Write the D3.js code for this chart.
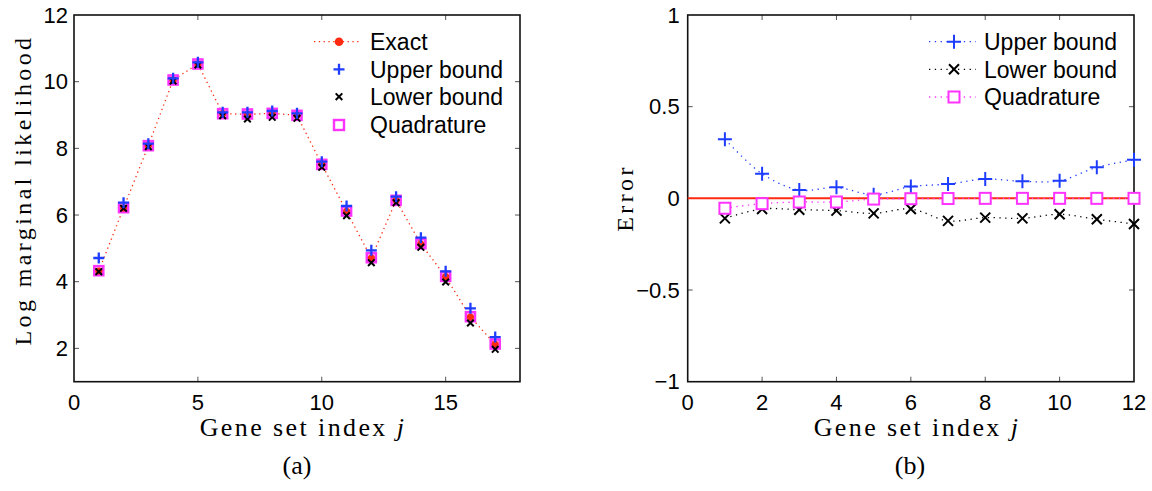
<!DOCTYPE html>
<html><head><meta charset="utf-8">
<script src="https://cdn.jsdelivr.net/npm/d3@7"></script>
<style>body{margin:0;background:#fff}svg{display:block}</style>
</head><body>
<svg id="c" width="1152" height="491"></svg>
<script>
// ---- data (a) ----
const geneA = [1,2,3,4,5,6,7,8,9,10,11,12,13,14,15,16,17];
const exactA = [4.32,6.21,8.08,10.05,10.53,9.04,9.02,9.05,8.99,7.52,6.11,4.71,6.44,5.13,4.15,2.94,2.12];
const upperA = [4.71,6.37,8.14,10.10,10.58,9.08,9.08,9.12,9.05,7.60,6.27,4.94,6.55,5.32,4.31,3.20,2.34];
const lowerA = [4.30,6.20,8.05,10.02,10.50,8.98,8.88,8.93,8.90,7.43,5.98,4.57,6.37,5.03,3.99,2.76,1.97];
const quadA  = [4.33,6.22,8.08,10.05,10.53,9.04,9.03,9.05,8.99,7.52,6.12,4.72,6.44,5.14,4.16,2.95,2.13];
const xTicksA = [0,5,10,15];
const yTicksA = [2,4,6,8,10,12];
// ---- data (b) ----
const geneB = [1,2,3,4,5,6,7,8,9,10,11,12];
const upperB = [0.323,0.134,0.045,0.060,0.020,0.064,0.078,0.105,0.093,0.096,0.169,0.210];
const lowerB = [-0.109,-0.058,-0.062,-0.067,-0.082,-0.058,-0.123,-0.105,-0.109,-0.087,-0.114,-0.140];
const quadB  = [-0.054,-0.029,-0.020,-0.020,-0.004,-0.002,-0.001,0,0,0,0,0];
const xTicksB = [0,2,4,6,8,10,12];
const yTicksB = [-1,-0.5,0,0.5,1];
const yTickLabelsB = ["\u22121","\u22120.5","0","0.5","1"];

const RED="#ff2a10", BLUE="#1f3dff", MAG="#ff33ff", BLK="#000";
const SANS="'Liberation Sans', Arial, Helvetica, sans-serif";
const SERIF="'Liberation Serif', 'Times New Roman', serif";

const svg = d3.select("#c");

function plus(g,x,y,h,col,w){g.append("path").attr("d",`M${x-h},${y}H${x+h}M${x},${y-h}V${y+h}`).attr("stroke",col).attr("stroke-width",w).attr("fill","none");}
function cross(g,x,y,h,col,w){g.append("path").attr("d",`M${x-h},${y-h}L${x+h},${y+h}M${x-h},${y+h}L${x+h},${y-h}`).attr("stroke",col).attr("stroke-width",w).attr("fill","none");}
function square(g,x,y,h,col,w,fill){g.append("rect").attr("x",x-h).attr("y",y-h).attr("width",2*h).attr("height",2*h).attr("stroke",col).attr("stroke-width",w).attr("fill",fill||"none");}

function frame(g,x,y,xt,yt,ytl,yPad){
  const [x0,x1]=x.range(), [y0,y1]=y.range();
  // ticks inward
  const tk = g.append("g").attr("stroke","#555").attr("stroke-width",1);
  xt.forEach(v=>{ if(v===x.domain()[0]||v===x.domain()[1]) return;
    tk.append("line").attr("x1",x(v)).attr("x2",x(v)).attr("y1",y0).attr("y2",y0-5);
    tk.append("line").attr("x1",x(v)).attr("x2",x(v)).attr("y1",y1).attr("y2",y1+5);});
  yt.forEach(v=>{ if(v===y.domain()[0]||v===y.domain()[1]) return;
    tk.append("line").attr("x1",x0).attr("x2",x0+5).attr("y1",y(v)).attr("y2",y(v));
    tk.append("line").attr("x1",x1).attr("x2",x1-5).attr("y1",y(v)).attr("y2",y(v));});
  g.append("rect").attr("x",x0).attr("y",y1).attr("width",x1-x0).attr("height",y0-y1)
    .attr("fill","none").attr("stroke","#111").attr("stroke-width",1.6);
  // labels
  xt.forEach(v=>g.append("text").attr("x",x(v)).attr("y",y0+28).attr("text-anchor","middle")
    .attr("font-family",SANS).attr("font-size",22).text(v));
  yt.forEach((v,i)=>g.append("text").attr("x",x0-yPad).attr("y",y(v)).attr("dy","0.35em").attr("text-anchor","end")
    .attr("font-family",SANS).attr("font-size",22).text(ytl?ytl[i]:v));
}

// ===== Panel (a) =====
const xA = d3.scaleLinear().domain([0,18]).range([74,520]);
const yA = d3.scaleLinear().domain([1,12]).range([381.7,15]);
const gA = svg.append("g");
frame(gA,xA,yA,xTicksA,yTicksA,null,6);

const lineA = d3.line().x((d,i)=>xA(geneA[i])).y(d=>yA(d));
gA.append("path").attr("d",lineA(exactA)).attr("fill","none").attr("stroke",RED)
  .attr("stroke-width",1.3).attr("stroke-dasharray","1.3,3.5");
geneA.forEach((j,i)=>square(gA,xA(j),yA(quadA[i]),4.5,MAG,2.6));
geneA.forEach((j,i)=>gA.append("circle").attr("cx",xA(j)).attr("cy",yA(exactA[i])).attr("r",3.6).attr("fill",RED));
geneA.forEach((j,i)=>cross(gA,xA(j),yA(lowerA[i]),3.3,BLK,2));
geneA.forEach((j,i)=>plus(gA,xA(j),yA(upperA[i]),5.5,BLUE,2.3));

// legend (a)
const legA = gA.append("g");
const lAy=[41.7,69.3,96.7,125], lAx=339;
legA.append("line").attr("x1",314).attr("x2",361).attr("y1",lAy[0]).attr("y2",lAy[0]).attr("stroke",RED).attr("stroke-width",1.3).attr("stroke-dasharray","1.3,3.5");
legA.append("circle").attr("cx",lAx).attr("cy",lAy[0]).attr("r",4.3).attr("fill",RED);
plus(legA,lAx,lAy[1],5.5,BLUE,2.3);
cross(legA,lAx,lAy[2],3.3,BLK,2);
square(legA,lAx,lAy[3],5,MAG,2.4);
["Exact","Upper bound","Lower bound","Quadrature"].forEach((t,i)=>legA.append("text").attr("x",370).attr("y",lAy[i]).attr("dy","0.36em")
  .attr("font-family",SANS).attr("font-size",23).text(t));

// axis labels (a)
svg.append("text").attr("transform","translate(31,190) rotate(-90)").attr("text-anchor","middle")
  .attr("font-family",SERIF).attr("font-size",24).attr("letter-spacing",3.4).text("Log marginal likelihood");
const xlA = svg.append("text").attr("x",303).attr("y",436).attr("text-anchor","middle")
  .attr("font-family",SERIF).attr("font-size",26).attr("letter-spacing",2.4);
xlA.append("tspan").text("Gene set index ");
xlA.append("tspan").attr("font-style","italic").text("j");
svg.append("text").attr("x",297).attr("y",474).attr("text-anchor","middle")
  .attr("font-family",SERIF).attr("font-size",26).text("(a)");

// ===== Panel (b) =====
const xB = d3.scaleLinear().domain([0,12]).range([687.7,1134]);
const yB = d3.scaleLinear().domain([-1,1]).range([381.7,15]);
const gB = svg.append("g");
frame(gB,xB,yB,xTicksB,yTicksB,yTickLabelsB,8);

gB.append("line").attr("x1",xB(0)).attr("x2",xB(12)).attr("y1",yB(0)).attr("y2",yB(0)).attr("stroke",RED).attr("stroke-width",2);
const lineB = d3.line().x((d,i)=>xB(geneB[i])).y(d=>yB(d)).curve(d3.curveCatmullRom);
gB.append("path").attr("d",lineB(upperB)).attr("fill","none").attr("stroke",BLUE).attr("stroke-width",1.3).attr("stroke-dasharray","1.3,4.5");
gB.append("path").attr("d",lineB(lowerB)).attr("fill","none").attr("stroke",BLK).attr("stroke-width",1.3).attr("stroke-dasharray","1.3,4.5");
gB.append("path").attr("d",lineB(quadB)).attr("fill","none").attr("stroke",MAG).attr("stroke-width",1.3).attr("stroke-dasharray","1.3,4.5");
geneB.forEach((j,i)=>plus(gB,xB(j),yB(upperB[i]),7,BLUE,2));
geneB.forEach((j,i)=>cross(gB,xB(j),yB(lowerB[i]),5,BLK,2));
geneB.forEach((j,i)=>square(gB,xB(j),yB(quadB[i]),5.5,MAG,2,"#fff"));

const legB = gB.append("g");
const lBy=[41.7,69.3,97], lBx=954;
[[BLUE,"plus"],[BLK,"cross"],[MAG,"sq"]].forEach(([c,m],i)=>{
  legB.append("line").attr("x1",929).attr("x2",976).attr("y1",lBy[i]).attr("y2",lBy[i]).attr("stroke",c).attr("stroke-width",1.3).attr("stroke-dasharray","1.3,4.5");
  if(m==="plus") plus(legB,lBx,lBy[i],7,c,2);
  if(m==="cross") cross(legB,lBx,lBy[i],5,c,2);
  if(m==="sq") square(legB,lBx,lBy[i],5.5,c,2,"#fff");
});
["Upper bound","Lower bound","Quadrature"].forEach((t,i)=>legB.append("text").attr("x",984).attr("y",lBy[i]).attr("dy","0.36em")
  .attr("font-family",SANS).attr("font-size",23).text(t));

svg.append("text").attr("transform","translate(633,198) rotate(-90)").attr("text-anchor","middle")
  .attr("font-family",SERIF).attr("font-size",24).attr("letter-spacing",3.4).text("Error");
const xlB = svg.append("text").attr("x",917).attr("y",436).attr("text-anchor","middle")
  .attr("font-family",SERIF).attr("font-size",26).attr("letter-spacing",2.4);
xlB.append("tspan").text("Gene set index ");
xlB.append("tspan").attr("font-style","italic").text("j");
svg.append("text").attr("x",910).attr("y",474).attr("text-anchor","middle")
  .attr("font-family",SERIF).attr("font-size",26).text("(b)");
</script>
</body></html>
